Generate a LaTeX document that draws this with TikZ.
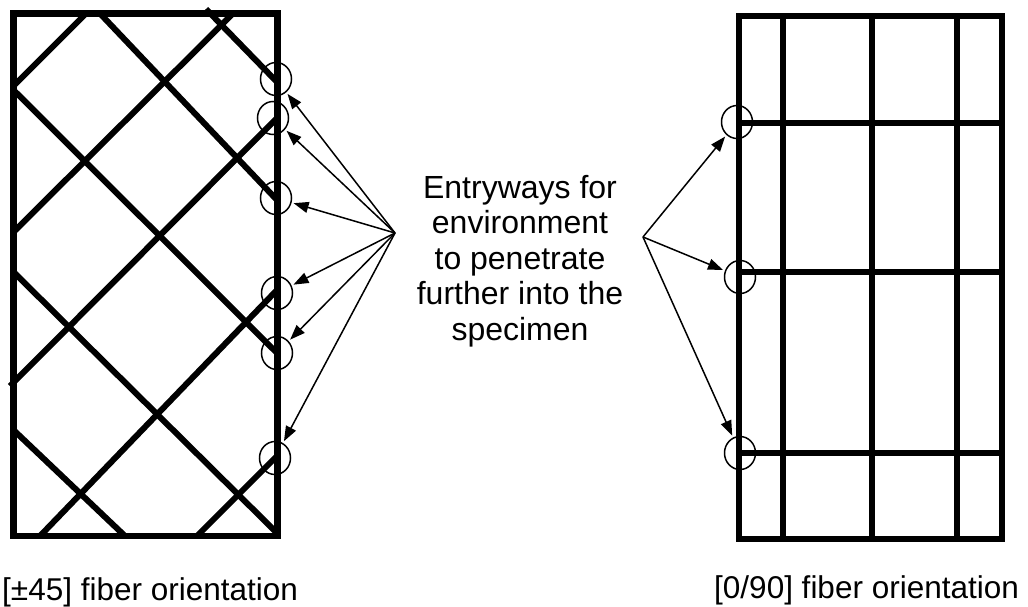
\documentclass[tikz,border=0pt]{standalone}
\usepackage{fontspec}
\setmainfont{Liberation Sans}
\usetikzlibrary{arrows.meta,shapes.geometric}
\begin{document}
\begin{tikzpicture}[x=1pt,y=-1pt,
  fiber/.style={line width=6pt},
  frame/.style={line width=6.5pt, line join=miter},
  hole/.style={ellipse, draw, line width=1.5pt, minimum width=31pt, minimum height=33pt, inner sep=0pt},
  pointer/.style={line width=1.5pt, -{Triangle[length=15pt,width=11pt]}, shorten >=2pt},
  txt/.style={font=\fontsize{32}{35.5}\selectfont, inner sep=0pt}
]
\useasboundingbox (0,0) rectangle (1028,607);
% ---------- left panel: [+-45] ----------
\draw[fiber] (86,13.5) -- (13.5,86);
\draw[fiber] (100,13.5) -- (277,200);
\draw[fiber] (233,13.5) -- (13.5,232);
\draw[fiber] (206,9) -- (277,82);
\draw[fiber] (13.5,90) -- (277,353);
\draw[fiber] (277,118) -- (10,386);
\draw[fiber] (13.5,272) -- (277,533);
\draw[fiber] (277,290) -- (40,536);
\draw[fiber] (13.5,430) -- (125,536);
\draw[fiber] (277,456) -- (197,536);
\draw[frame] (13.5,13.5) rectangle (277.5,536);
% ---------- right panel: [0/90] ----------
\foreach \x in {783,872,957} \draw[fiber] (\x,16) -- (\x,539);
\foreach \y in {123,272,453} \draw[fiber] (739,\y) -- (1002,\y);
\draw[frame] (739,16) rectangle (1002,539);
% ---------- entry holes ----------
\node[hole] (l1) at (276,79) {};
\node[hole] (l2) at (273,118) {};
\node[hole] (l3) at (276,198) {};
\node[hole] (l4) at (277,293) {};
\node[hole] (l5) at (277,353) {};
\node[hole] (l6) at (275,458) {};
\node[hole] (r1) at (737,122) {};
\node[hole] (r2) at (740,277) {};
\node[hole] (r3) at (740,453) {};
% ---------- text ----------
\node[txt, anchor=north, align=center] (note) at (520,175)
  {Entryways for\\environment\\to penetrate\\further into the\\specimen};
\node[txt, font=\fontsize{31.5}{35}\selectfont, anchor=base west] (capL) at (2,600) {[±45] fiber orientation};
\node[txt, font=\fontsize{31.5}{35}\selectfont, anchor=base west] (capR) at (714,598) {[0/90] fiber orientation};
% ---------- pointers ----------
\coordinate (srcL) at (395,233);
\coordinate (srcR) at (643,237);
\foreach \n in {l1,l2,l3,l4,l5,l6} \draw[pointer] (srcL) -- (\n);
\foreach \n in {r1,r2,r3} \draw[pointer] (srcR) -- (\n);
\end{tikzpicture}
\end{document}
